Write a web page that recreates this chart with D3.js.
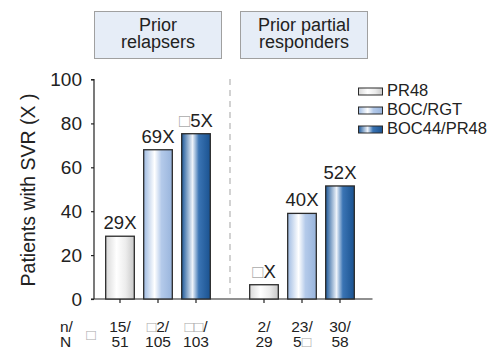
<!DOCTYPE html>
<html><head><meta charset="utf-8">
<script src="https://cdn.jsdelivr.net/npm/d3@7"></script>
<style>body{margin:0;background:#fff}svg{display:block}text{font-family:"Liberation Sans",Arial,sans-serif;fill:#222}</style>
</head><body>
<svg id="c" width="502" height="354"></svg>
<script>
const groups = ["Prior relapsers", "Prior partial responders"];
const groupLines = [["Prior", "relapsers"], ["Prior partial", "responders"]];
const series = ["PR48", "BOC/RGT", "BOC44/PR48"];
const values = [[28.6, 68, 75.3], [6.5, 39, 51.5]];
const valueLabels = [["29X", "69X", "□5X"], ["□X", "40X", "52X"]];
const nLabels = [["15/", "□2/", "□□/"], ["2/", "23/", "30/"]];
const NLabels = [["51", "105", "103"], ["29", "5□", "58"]];
const yTicks = [0, 20, 40, 60, 80, 100];

const svg = d3.select("#c");
const defs = svg.append("defs");
const grads = [
  [["0%","#d8d8d8"],["38%","#ffffff"],["70%","#ececec"],["100%","#c8c8c8"]],
  [["0%","#9fbbe2"],["38%","#ffffff"],["62%","#b4caea"],["100%","#98b4dc"]],
  [["0%","#1d5899"],["38%","#eef3fa"],["60%","#3a74b4"],["100%","#1a5290"]]
];
grads.forEach((g,i)=>{
  const lg = defs.append("linearGradient").attr("id","g"+i).attr("x1","0").attr("x2","1").attr("y1","0").attr("y2","0");
  g.forEach(s=>lg.append("stop").attr("offset",s[0]).attr("stop-color",s[1]));
});

const y = d3.scaleLinear().domain([0,100]).range([299,79.5]);
const xg = d3.scaleBand().domain(groups).range([101,359]).paddingInner(30/144).paddingOuter(0);
const xs = d3.scaleBand().domain(series).range([0,xg.bandwidth()]).paddingInner(0.247).paddingOuter(0.1235);

function addText(sel, str){
  for (const ch of str){
    const ts = sel.append("tspan").text(ch);
    if (ch==="□") ts.style("fill","#aaa");
  }
}

// header boxes
groups.forEach((g,gi)=>{
  const cx = xg(g)+xg.bandwidth()/2 + (gi===0? 0 : 2);
  svg.append("rect").attr("x",cx-63.5).attr("y",11.5).attr("width",127).attr("height",47)
    .attr("fill","#e6edf7").attr("stroke","#a0a0a0").attr("stroke-width",1);
  groupLines[gi].forEach((t,li)=>{
    svg.append("text").attr("x",cx).attr("y",31+li*17).attr("text-anchor","middle")
      .attr("font-size","18px").text(t);
  });
});

// y axis
const yAxis = d3.axisLeft(y).tickValues(yTicks).tickSize(3).tickPadding(9);
const ya = svg.append("g").attr("transform","translate(94,0)").call(yAxis);
ya.select(".domain").attr("stroke","#222").attr("stroke-width",1.2).attr("d","M-3,79.5H0V299");
ya.selectAll(".tick line").attr("stroke","#222").attr("stroke-width",1.2);
ya.selectAll(".tick text").attr("font-size","19px").attr("fill","#222").attr("font-family","Liberation Sans, Arial, sans-serif");

// baseline
svg.append("line").attr("x1",91).attr("x2",372.5).attr("y1",y(0)).attr("y2",y(0)).attr("stroke","#222").attr("stroke-width",1.2);

// divider
const divX = (xg(groups[0])+xg.bandwidth()+xg(groups[1]))/2;
svg.append("line").attr("x1",divX).attr("x2",divX).attr("y1",79).attr("y2",299)
  .attr("stroke","#b4b4b4").attr("stroke-width",1.2).attr("stroke-dasharray","6,5");

// bars
groups.forEach((g,gi)=>{
  series.forEach((s,si)=>{
    const x0 = xg(g)+xs(s), v = values[gi][si];
    svg.append("rect").attr("x",x0).attr("y",y(v)).attr("width",xs.bandwidth()).attr("height",y(0)-y(v))
      .attr("fill","url(#g"+si+")").attr("stroke","#2a2a2a").attr("stroke-width",1.3);
    const cx = x0+xs.bandwidth()/2;
    svg.append("line").attr("x1",cx).attr("x2",cx).attr("y1",y(0)).attr("y2",y(0)+4).attr("stroke","#222").attr("stroke-width",1.2);
    const lab = svg.append("text").attr("x",cx).attr("y",y(v)-7).attr("text-anchor","middle").attr("font-size","18.5px");
    addText(lab, valueLabels[gi][si]);
    const t1 = svg.append("text").attr("x",cx).attr("y",332).attr("text-anchor","middle").attr("font-size","15.5px");
    addText(t1, nLabels[gi][si]);
    const t2 = svg.append("text").attr("x",cx).attr("y",347).attr("text-anchor","middle").attr("font-size","15.5px");
    addText(t2, NLabels[gi][si]);
  });
});

svg.append("text").attr("x",60).attr("y",332).attr("font-size","15.5px").text("n/");
svg.append("text").attr("x",60).attr("y",347).attr("font-size","15.5px").text("N");
svg.append("text").attr("x",91).attr("y",340).attr("text-anchor","middle").attr("font-size","15.5px").style("fill","#aaa").text("□");

// y label
svg.append("text").attr("transform","translate(35,190) rotate(-90)").attr("text-anchor","middle")
  .attr("font-size","19.5px").text("Patients with SVR (X )");

// legend
series.forEach((s,i)=>{
  const ly = 88 + i*19;
  svg.append("rect").attr("x",358.5).attr("y",ly).attr("width",24).attr("height",7)
    .attr("fill","url(#g"+i+")").attr("stroke","#2a2a2a").attr("stroke-width",1);
  svg.append("text").attr("x",387).attr("y",ly+7.5).attr("font-size","16.5px").text(s);
});
</script>
</body></html>
